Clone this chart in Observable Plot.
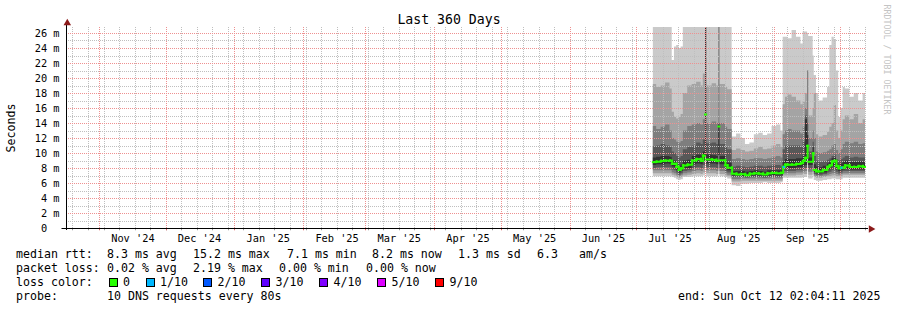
<!DOCTYPE html>
<html><head><meta charset="utf-8">
<script src="https://cdn.jsdelivr.net/npm/d3@7"></script>
<script src="https://cdn.jsdelivr.net/npm/@observablehq/plot@0.6"></script>
<style>
html,body{margin:0;padding:0;background:#fff;}
#wrap{width:897px;height:310px;overflow:hidden;font-family:"DejaVu Sans Mono",monospace;color:#000;background:#fff;}
#wrap svg{display:block;}
#legend{position:relative;height:63px;font-size:11.6px;}
#legend .t{position:absolute;white-space:pre;line-height:14px;}
#legend .b{position:absolute;width:9px;height:9px;box-sizing:border-box;border:1px solid #000;}
</style>
</head><body><div id="wrap"></div>
<script>
// ---------- data ----------
const rangeStart = "2024-10-17T02:04:11Z";
const rangeEnd = "2025-10-12T02:04:11Z";
const dates = ["2025-07-08T12:00Z","2025-07-10","2025-07-12","2025-07-14","2025-07-16","2025-07-17","2025-07-18","2025-07-19","2025-07-20","2025-07-21",
"2025-07-22","2025-07-24","2025-07-26","2025-07-28","2025-07-30","2025-07-31","2025-08-01T00:00Z","2025-08-01T12:00Z","2025-08-04","2025-08-06",
"2025-08-07T00:00Z","2025-08-07T12:00Z","2025-08-10","2025-08-11","2025-08-13","2025-08-15","2025-08-17","2025-08-19","2025-08-21","2025-08-23",
"2025-08-25","2025-08-27","2025-08-29","2025-08-31","2025-09-02","2025-09-04","2025-09-05","2025-09-06","2025-09-07","2025-09-09",
"2025-09-11","2025-09-13","2025-09-14","2025-09-15","2025-09-16T00:00Z","2025-09-16T12:00Z","2025-09-18T12:00Z","2025-09-19","2025-09-20","2025-09-21",
"2025-09-23","2025-09-25","2025-09-26","2025-09-27","2025-09-28","2025-09-29","2025-09-30","2025-10-01","2025-10-02","2025-10-03",
"2025-10-05","2025-10-07","2025-10-09","2025-10-11","2025-10-12T02:04:11Z"];
const median = [8.85,8.9,9.0,9.05,9.0,8.6,8.6,8.2,7.8,8.0,
8.4,8.5,9.05,9.25,9.0,9.7,15.2,9.2,9.15,9.0,
13.6,9.1,8.4,8.1,7.3,7.2,7.25,7.1,7.3,7.35,
7.3,7.2,7.35,7.4,7.35,7.4,8.2,8.5,8.5,8.5,
8.6,8.7,9.0,9.4,11.0,8.9,10.0,7.8,7.6,7.6,
7.8,8.2,8.4,8.9,9.0,8.3,8.0,8.1,8.1,8.4,
8.2,8.2,8.3,8.2,8.2];
const loss = [0,0,0,0,0,0,0,0,0,0, 0,0,0,0,0,0,0,0,0,0, 0,0,0,0,0,0,0,0,0,0, 0,0,0,0,0,0,1,0,0,0,
0,0,0,0,0,0,0,0,0,0, 0,0,0,0,0,0,0,1,0,0, 0,0,0,0,0];
const p10 = [27,27,27,27,27,22.4,24.2,24.4,24.0,24.2,
27,27,27,27,27,27,27,27,27,27,
27,27,27,27,12.2,12.6,12.0,11.2,11.4,12.5,
12.7,12.4,12.6,13.6,13.8,13.0,25.5,25.5,25.3,26.4,
25.5,24.6,26.2,26.2,26.0,25.6,23.0,20.4,18.0,17.0,
17.4,18.8,24.4,25.5,25.2,21.0,14.8,16.0,18.8,18.6,
17.5,18.0,17.0,18.0,18.0];
const p9 = [19.2,18.8,19.0,19.4,18.6,15.5,14.8,14.6,14.8,15.2,
18.0,19.0,19.2,19.5,19.0,20.6,27,19.0,19.3,19.0,
27,19.2,18.8,18.5,10.4,10.6,10.4,10.2,10.3,10.6,
10.8,10.5,10.6,11.0,11.2,10.8,16.5,17.5,17.8,17.5,
17.0,16.5,16.8,18.0,21.0,15.0,16.0,18.0,12.5,12.2,
12.4,12.8,13.5,14.0,16.4,13.0,12.0,13.0,14.5,15.0,
14.5,15.2,14.0,14.5,14.5];
const p8 = [13.6,13.2,13.5,13.8,13.0,12.0,11.8,11.5,11.4,11.6,
13.0,13.6,13.8,14.0,13.8,14.5,27,14.0,14.2,14.0,
27,14.0,13.5,13.2,9.2,9.3,9.2,9.1,9.2,9.3,
9.3,9.2,9.3,9.5,9.6,9.4,12.5,13.0,13.2,13.0,
13.0,12.6,13.5,16.0,21.0,12.0,13.0,12.0,10.2,10.0,
10.1,10.3,10.5,11.0,11.2,10.4,10.0,10.5,11.2,11.5,
11.3,11.5,11.2,11.3,11.3];
const p7 = [10.9,11.0,11.2,11.0,10.8,10.2,10.0,9.6,9.4,9.6,
10.5,10.8,11.0,11.4,11.2,11.8,27,11.3,11.4,11.2,
14.0,11.2,10.8,10.5,8.2,8.3,8.2,8.1,8.2,8.3,
8.3,8.2,8.3,8.4,8.4,8.3,10.5,11.0,11.0,11.0,
11.0,10.8,11.5,15.0,14.0,10.2,11.5,9.6,9.0,8.8,
8.9,9.1,9.3,9.6,9.8,9.2,9.0,9.2,9.4,9.6,
9.4,9.5,9.4,9.4,9.4];
const p6 = [9.4,9.5,9.6,9.6,9.5,9.1,9.0,8.6,8.3,8.5,
9.0,9.1,9.6,9.8,9.7,10.2,27,9.8,9.7,9.6,
13.8,9.6,9.0,8.7,7.6,7.6,7.6,7.5,7.6,7.7,
7.6,7.5,7.7,7.7,7.7,7.7,8.8,9.2,9.2,9.2,
9.3,9.3,9.6,14.5,12.4,9.4,10.8,8.5,8.2,8.1,
8.3,8.6,8.8,9.3,9.4,8.7,8.5,8.6,8.8,9.0,
8.8,8.8,8.9,8.8,8.8];
const p5 = [8.4,8.5,8.5,8.6,8.5,8.2,8.1,7.7,7.4,7.6,
8.0,8.0,8.5,8.6,8.5,9.0,9.7,8.6,8.6,8.5,
9.7,8.5,8.0,7.7,7.0,7.0,6.95,6.9,7.0,7.0,
7.0,6.95,7.0,7.05,7.0,7.05,7.9,8.0,8.0,8.0,
8.1,8.1,8.3,8.4,9.2,8.4,9.2,7.5,7.3,7.3,
7.4,7.7,7.9,8.2,8.2,7.8,7.6,7.7,7.8,7.9,
7.8,7.8,7.8,7.8,7.8];
const p4 = [8.0,8.1,8.1,8.1,8.1,7.8,7.7,7.4,7.1,7.3,
7.6,7.7,8.0,8.1,8.0,8.4,9.7,8.1,8.1,8.0,
9.7,8.0,7.6,7.4,6.8,6.8,6.8,6.75,6.8,6.8,
6.8,6.75,6.8,6.85,6.8,6.85,7.6,7.6,7.6,7.6,
7.7,7.7,7.8,8.0,9.2,7.9,9.0,7.2,7.1,7.1,
7.2,7.4,7.5,7.7,7.7,7.5,7.3,7.4,7.6,7.6,
7.6,7.6,7.6,7.6,7.6];
const p3 = [7.7,7.7,7.7,7.7,7.7,7.4,7.3,7.1,6.9,7.1,
7.3,7.4,7.6,7.7,7.6,7.9,9.7,7.7,7.7,7.6,
9.7,7.6,7.3,7.1,6.5,6.5,6.6,6.6,6.6,6.6,
6.6,6.6,6.6,6.6,6.6,6.6,7.3,7.3,7.3,7.3,
7.4,7.4,7.5,7.6,9.2,7.5,8.9,7.0,6.9,6.9,
7.0,7.1,7.2,7.3,7.3,7.2,7.1,7.2,7.3,7.3,
7.3,7.3,7.3,7.3,7.3];
const p2 = [7.3,7.3,7.3,7.3,7.3,7.1,7.0,6.8,6.7,6.8,
7.0,7.1,7.2,7.3,7.2,7.4,9.7,7.3,7.3,7.2,
9.7,7.2,7.0,6.9,6.2,6.2,6.3,6.3,6.3,6.3,
6.3,6.3,6.3,6.3,6.3,6.3,7.0,7.0,7.0,7.0,
7.1,7.1,7.2,7.2,9.2,7.1,8.8,6.8,6.7,6.7,
6.8,6.9,6.9,7.0,7.0,6.9,6.9,6.9,7.1,7.1,
7.1,7.1,7.1,7.1,7.1];
const p1 = [6.9,6.9,6.9,6.9,6.9,6.8,6.7,6.5,6.4,6.5,
6.8,6.8,6.9,6.9,6.9,7.0,9.7,6.9,6.9,6.9,
9.7,6.9,6.8,6.6,5.7,5.6,5.9,5.9,6.0,6.0,
6.0,6.1,6.0,6.0,6.0,6.1,6.7,6.7,6.7,6.7,
6.7,6.7,6.8,6.8,9.2,6.6,8.7,6.4,6.3,6.3,
6.4,6.5,6.5,6.6,6.6,6.5,6.5,6.5,6.7,6.7,
6.7,6.7,6.7,6.7,6.7];

const yTicks = [0,2,4,6,8,10,12,14,16,18,20,22,24,26];
const xTickDates = ["2024-11-16","2024-12-16","2025-01-16","2025-02-16","2025-03-16","2025-04-16","2025-05-16","2025-06-16","2025-07-16","2025-08-16","2025-09-16"];
const xTickLabels = ["Nov '24","Dec '24","Jan '25","Feb '25","Mar '25","Apr '25","May '25","Jun '25","Jul '25","Aug '25","Sep '25"];

const titleText = "Last 360 Days";
const yLabel = "Seconds";
const watermark = "RRDTOOL / TOBI OETIKER";

const rttValues = [8.3, 15.2, 7.1, 8.2, 1.3];
const rttLabels = ["avg", "max", "min", "now", "sd"];
const amPerS = 6.3;
const lossValues = [0.02, 2.19, 0.00, 0.00];
const lossStatLabels = ["avg", "max", "min", "now"];
const lossSteps = [0, 1, 2, 3, 4, 5, 9];
const lossColors = ["#26ff00", "#00b8ff", "#0059ff", "#5e00ff", "#7e00ff", "#dd00ff", "#ff0000"];
const probeText = "10 DNS requests every 80s";

// ---------- build ----------
const W = 897, H = 247, ML = 66, MR = 32, MT = 27, MB = 19;
const start = new Date(rangeStart), end = new Date(rangeEnd);
const yMax = 26.8;
const rows = dates.map((d, i) => ({
  date: new Date(d), med: median[i], loss: loss[i],
  p1: p1[i], p2: p2[i], p3: p3[i], p4: p4[i], p5: p5[i],
  p6: p6[i], p7: p7[i], p8: p8[i], p9: p9[i], p10: p10[i]
}));
rows.forEach((r, i) => {
  r.next = i + 1 < rows.length ? rows[i + 1].date : r.date;
  r.prevMed = i > 0 ? rows[i - 1].med : r.med;
});
const segs = rows.slice(0, -1);
const joins = rows.filter((r, i) => i > 0 && i < rows.length - 1 && Math.abs(r.med - r.prevMed) < 2);
const lossRows = segs.filter(r => r.loss > 0);

const smokeFills = ["#cacaca", "#a4a4a4", "#7e7e7e", "#585858", "#323232"];
const smoke = smokeFills.map((fill, i) =>
  Plot.areaY(rows, {x: "date", y1: `p${i + 1}`, y2: `p${10 - i}`, fill, curve: "step-after", clip: true}));

// grid positions, snapped to whole pixels so the 1px dotted rules stay crisp
const xs = d3.scaleUtc([start, end], [ML, W - MR]);
const ys = d3.scaleLinear([0, yMax], [H - MB, MT]);
const snapX = d => xs.invert(Math.round(xs(d)));
const snapY = v => ys.invert(Math.round(ys(v)));
const weeks = d3.utcSunday.range(start, end).map(snapX);
const months = d3.utcMonth.range(start, end).map(snapX);
const yMinor = d3.range(1, 27, 2).map(snapY);
const yMajor = d3.range(2, 27, 2).map(snapY);
const tickMap = new Map(xTickDates.map((d, i) => [+new Date(d), xTickLabels[i]]));

const minorCol = "#bfbfbf", majorCol = "#ee9090";
const axisRed = "#8b1a1a";
const green = lossColors[0];
const dotted = {strokeDasharray: "1,1"};

const chart = Plot.plot({
  width: W, height: H,
  marginLeft: ML, marginRight: MR, marginTop: MT, marginBottom: MB,
  style: {background: "#fff", fontFamily: "DejaVu Sans Mono", fontSize: "10.3px", color: "#000", overflow: "visible"},
  x: {type: "utc", domain: [start, end], ticks: xTickDates.map(d => new Date(d)), tickFormat: d => tickMap.get(+d), tickSize: 0, tickPadding: 6, label: null},
  y: {domain: [0, yMax], ticks: yTicks, tickFormat: d => d === 0 ? "0\u00a0\u00a0" : `${d} m`, tickSize: 0, tickPadding: 7, label: null},
  marks: [
    ...smoke,
    Plot.ruleY(yMinor, {stroke: minorCol, ...dotted}),
    Plot.ruleX(weeks, {stroke: minorCol, ...dotted}),
    Plot.ruleY(yMajor, {stroke: majorCol, ...dotted}),
    Plot.ruleX(months, {stroke: majorCol, ...dotted}),
    Plot.ruleX(weeks, {y1: 0, y2: -0.3, stroke: "#999"}),
    Plot.ruleX(months, {y1: 0, y2: -0.3, stroke: "#e06060"}),
    Plot.ruleY(segs, {y: "med", x1: "date", x2: "next", stroke: green, strokeWidth: 2, strokeLinecap: "square"}),
    Plot.ruleX(joins, {x: "date", y1: "prevMed", y2: "med", stroke: green, strokeWidth: 2, strokeLinecap: "square"}),
    Plot.ruleY(lossRows, {y: "med", x1: "date", x2: "next", stroke: d => lossColors[lossSteps.indexOf(d.loss)], strokeWidth: 2}),
    Plot.ruleY([0], {stroke: "#000", insetLeft: -4.5, insetRight: -3}),
    Plot.ruleX([start], {stroke: "#000", insetTop: -4, insetBottom: -2}),
    Plot.dot([0], {frameAnchor: "top-left", dx: 0.8, dy: -4.5, symbol: "triangle", r: 2.8, fill: axisRed, stroke: "none"}),
    Plot.dot([0], {frameAnchor: "bottom-right", dx: 5.5, dy: 0.5, symbol: "triangle", rotate: 90, r: 2.8, fill: axisRed, stroke: "none"}),
    Plot.text([titleText], {frameAnchor: "top-left", dx: 382.5, dy: -8, textAnchor: "middle", lineAnchor: "middle", fontSize: 13.2, fill: "#000"}),
    Plot.text([yLabel], {frameAnchor: "left", dx: -55.5, rotate: -90, textAnchor: "middle", lineAnchor: "middle", fontSize: 11.6, fill: "#000"}),
    Plot.text([watermark], {frameAnchor: "top-right", dx: 21, dy: 32, rotate: 90, textAnchor: "middle", lineAnchor: "middle", fontSize: 8.3, fill: "#c4c4c4"})
  ]
});

const wrap = document.getElementById("wrap");
wrap.appendChild(chart);

// ---------- legend (below the SVG) ----------
const legend = document.createElement("div");
legend.id = "legend";
wrap.appendChild(legend);
function txt(x, cy, s) {
  const e = document.createElement("span");
  e.className = "t"; e.textContent = s;
  e.style.left = x + "px"; e.style.top = (cy - H - 7) + "px";
  legend.appendChild(e);
}
function box(x, cy, c) {
  const e = document.createElement("span");
  e.className = "b"; e.style.background = c;
  e.style.left = x + "px"; e.style.top = (cy - H - 4.5) + "px";
  legend.appendChild(e);
}
const rowY = [254, 268, 282, 296];
const rttX = [107, 193, 287, 372, 458];
txt(16, rowY[0], "median rtt:");
rttValues.forEach((v, i) => txt(rttX[i], rowY[0], `${v.toFixed(1)} ms ${rttLabels[i]}`));
txt(537, rowY[0], amPerS.toFixed(1));
txt(579, rowY[0], "am/s");
const lossX = [107, 193, 279, 366];
txt(16, rowY[1], "packet loss:");
lossValues.forEach((v, i) => txt(lossX[i], rowY[1], `${v.toFixed(2)} % ${lossStatLabels[i]}`));
const boxX = [108.5, 145.5, 203, 261, 319, 377, 435];
txt(16, rowY[2], "loss color:");
lossSteps.forEach((s, i) => {
  box(boxX[i], rowY[2] + 0.5, lossColors[i]);
  txt(boxX[i] + 14.5, rowY[2], s === 0 ? "0" : `${s}/10`);
});
txt(16, rowY[3], "probe:");
txt(107, rowY[3], probeText);
txt(678, rowY[3], "end: " + d3.utcFormat("%a %b %d %H:%M:%S %Y")(end));
</script>
</body></html>
